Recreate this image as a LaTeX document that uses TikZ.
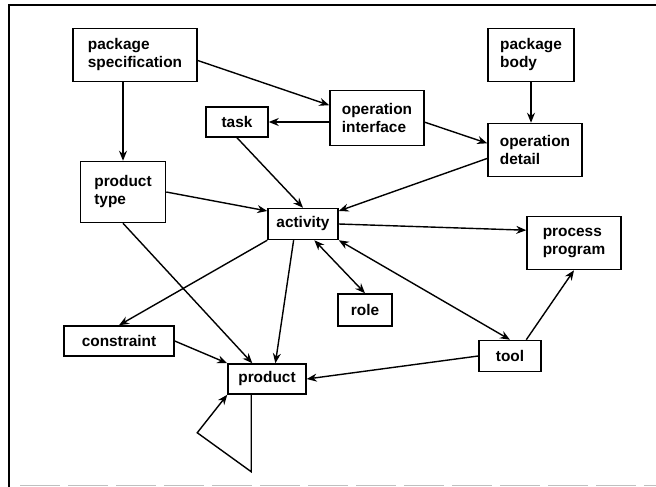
\documentclass[tikz,border=0pt]{standalone}
\usepackage{fontspec}
\setmainfont{Liberation Sans}
\usetikzlibrary{arrows.meta}
\tikzset{
	blk/.style={draw, line width=1.5pt, inner sep=0pt, align=left, font=\bfseries\fontsize{15.4}{18}\selectfont},
	arr/.style={line width=1.4pt, -{Stealth[length=10pt,width=8pt]}},
	arrs/.style={line width=1.4pt, {Stealth[length=10pt,width=8pt]}-{Stealth[length=10pt,width=8pt]}}
}

\begin{document}
\begin{tikzpicture}[x=1pt, y=-1pt]
			%%%%% START %%%%%
			\useasboundingbox (0, 0) rectangle (656, 487);
			
			\draw[line width=1.8pt] (9, 487) -- (9, 5) -- (656, 5);
			\draw[line width=1pt, color=black!25, dash pattern=on 40pt off 8pt] (20, 485) -- (656, 485);
			
			\node[blk, minimum width=124pt, minimum height=53pt] (spec) at (135, 55) {package\\specification};
			\node[blk, minimum width=86pt, minimum height=53pt] (body) at (531, 55) {package\\body};
			\node[blk, minimum width=94pt, minimum height=55pt] (opint) at (377, 118) {operation\\interface};
			\node[blk, minimum width=62pt, minimum height=30pt] (task) at (237, 122) {task};
			\node[blk, minimum width=94pt, minimum height=53pt] (opdet) at (535, 150) {operation\\detail};
			\node[blk, minimum width=85pt, minimum height=61pt] (ptype) at (123, 192) {product\\type};
			\node[blk, minimum width=70pt, minimum height=31pt] (activity) at (303, 224) {activity};
			\node[blk, minimum width=94pt, minimum height=53pt] (pprog) at (574, 243) {process\\program};
			\node[blk, minimum width=54pt, minimum height=32pt] (role) at (365, 310) {role};
			\node[blk, minimum width=110pt, minimum height=30pt] (constr) at (119, 341) {constraint};
			\node[blk, minimum width=78pt, minimum height=30pt] (product) at (267, 379) {product};
			\node[blk, minimum width=62pt, minimum height=31pt] (tool) at (510, 356) {tool};
			
			\draw[arr] (spec.-5) -- (opint.165);
			\draw[arr] (ptype.north |- spec.south) -- (ptype.north);
			\draw[arr] (opint.west |- task.east) -- (task.east);
			\draw[arr] (opint.-5) -- (opdet.172);
			\draw[arr] (body.south) -- (body.south |- opdet.north);
			
			\draw[arr] (task.south) -- (activity.north);
			\draw[arr] (ptype.east) -- (activity.160);
			\draw[arr] (opdet.190) -- (activity.20);
			\draw[arr] (activity.east) -- (pprog.165);
			\draw[arrs] (activity.-55) -- (role.north);
			\draw[arrs] (activity.south east) -- (tool.north);
			\draw[arr] (activity.south west) -- (constr.north);
			\draw[arr] (activity.-120) -- (product.62);
			
			\draw[arr] (ptype.south) -- (product.133);
			\draw[arr] (constr.east) -- (product.north west);
			\draw[arr] (tool.west) -- (product.east);
			\draw[arr] (tool.45) -- (pprog.south);
			\draw[arr] (product.-135) -- ++(0, 77) -- ++(-54, -39) -- (product.south west);
			
			%%%%% END %%%%%
\end{tikzpicture}
\end{document}
